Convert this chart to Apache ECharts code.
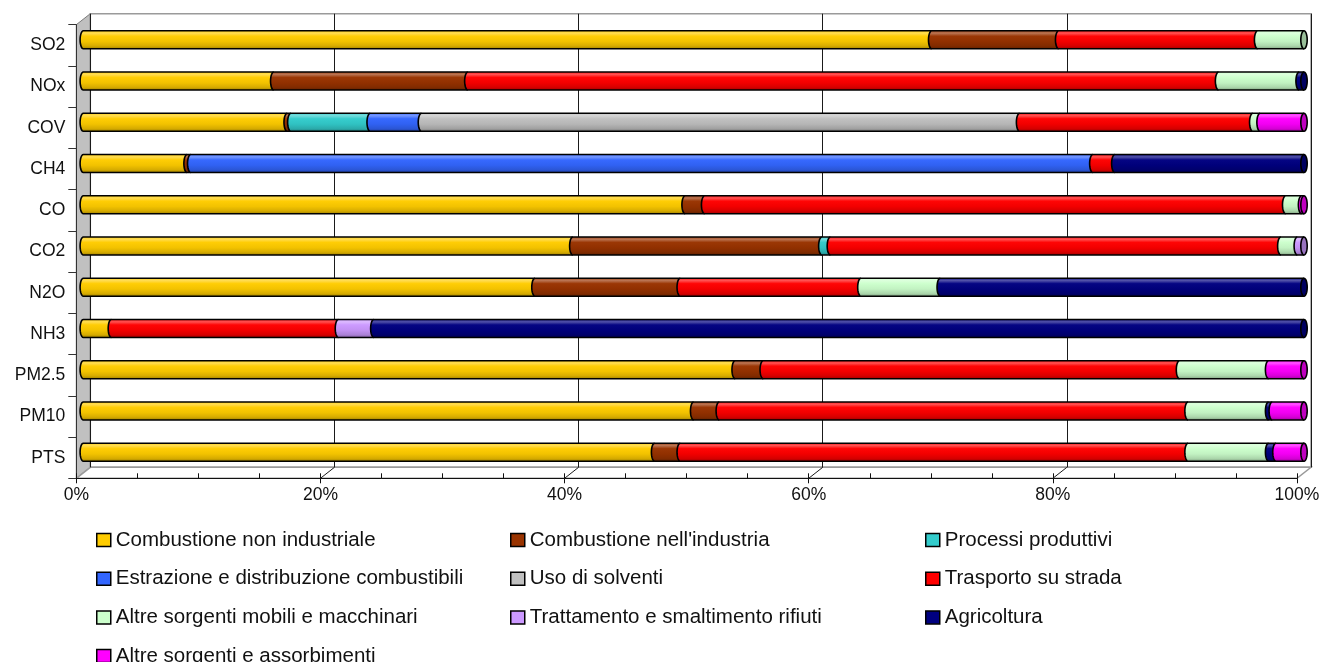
<!DOCTYPE html>
<html>
<head>
<meta charset="utf-8">
<title>Emissioni per macrosettore</title>
<script src="https://cdn.jsdelivr.net/npm/echarts@6/dist/echarts.min.js"></script>
<style>
  html, body { margin: 0; padding: 0; background: #ffffff; }
  #chart { width: 1324px; height: 662px; }
</style>
</head>
<body>
<div id="chart"></div>
<script>
// ---- Data: share of each source (%) per pollutant, top row first ----
const pollutants = ['SO2', 'NOx', 'COV', 'CH4', 'CO', 'CO2', 'N2O', 'NH3', 'PM2.5', 'PM10', 'PTS'];
const percentTicks = [0, 20, 40, 60, 80, 100];

const combustioneNonIndustriale = [69.5, 15.6, 16.7, 8.5, 49.3, 40.1, 37.0, 2.3, 53.4, 50.0, 46.8];
const combustioneIndustria      = [10.4, 15.9, 0.3, 0.3, 1.6, 20.4, 11.9, 0, 2.3, 2.1, 2.1];
const processiProduttivi        = [0, 0, 6.5, 0, 0, 0.7, 0, 0, 0, 0, 0];
const estrazioneCombustibili    = [0, 0, 4.2, 73.9, 0, 0, 0, 0, 0, 0, 0];
const usoSolventi               = [0, 0, 49.0, 0, 0, 0, 0, 0, 0, 0, 0];
const trasportoStrada           = [16.3, 61.5, 19.1, 1.8, 47.6, 36.9, 14.8, 18.6, 34.1, 38.4, 41.6];
const altreSorgentiMobili       = [3.8, 6.6, 0.6, 0, 1.3, 1.35, 6.5, 0, 7.3, 6.6, 6.6];
const trattamentoRifiuti        = [0, 0, 0, 0, 0, 0.55, 0, 2.9, 0, 0, 0];
const agricoltura               = [0, 0.4, 0, 15.5, 0, 0, 29.8, 76.2, 0, 0.3, 0.6];
const altreSorgentiAssorbimenti = [0, 0, 3.6, 0, 0.2, 0, 0, 0, 2.9, 2.6, 2.3];

const sourceNames = [
  'Combustione non industriale',
  "Combustione nell'industria",
  'Processi produttivi',
  'Estrazione e distribuzione combustibili',
  'Uso di solventi',
  'Trasporto su strada',
  'Altre sorgenti mobili e macchinari',
  'Trattamento e smaltimento rifiuti',
  'Agricoltura',
  'Altre sorgenti e assorbimenti'
];
const sourceValues = [
  combustioneNonIndustriale, combustioneIndustria, processiProduttivi,
  estrazioneCombustibili, usoSolventi, trasportoStrada, altreSorgentiMobili,
  trattamentoRifiuti, agricoltura, altreSorgentiAssorbimenti
];

// ---- Styles ----
const palette = ['#FFCC00', '#993300', '#33CCCC', '#3366FF', '#C0C0C0',
                 '#FF0000', '#CCFFCC', '#CC99FF', '#000080', '#FF00FF'];
const FONT = "'Liberation Sans', Arial, sans-serif";

// ---- Layout (pseudo-3D box: front plane, back plane shifted by depth) ----
const FRONT = { left: 76.3, top: 24.7, width: 1220.7, height: 453.6 };
const DEPTH = { dx: 14, dy: -11 };
const BACK = { left: FRONT.left + DEPTH.dx, top: FRONT.top + DEPTH.dy, width: FRONT.width, height: FRONT.height };
const MID  = { left: FRONT.left + DEPTH.dx / 2, top: FRONT.top + DEPTH.dy / 2, width: FRONT.width, height: FRONT.height };
const BAR_HEIGHT = 18;
const CAP_RX = 3.2;
const OUTLINE = 1.6;
const LEGEND_COLS = [96, 510, 925];
const LEGEND_TOP = 529.5;

// colour helpers for the cylinder shading
function hexToRgb(h) {
  const n = parseInt(h.slice(1), 16);
  return [(n >> 16) & 255, (n >> 8) & 255, n & 255];
}
function shade(hex, f) {
  const c = hexToRgb(hex).map(v => f >= 0 ? v + (255 - v) * f : v * (1 + f));
  return 'rgb(' + c.map(v => Math.round(Math.max(0, Math.min(255, v)))).join(',') + ')';
}
function cylinderFill(hex) {
  return new echarts.graphic.LinearGradient(0, 0, 0, 1, [
    { offset: 0,    color: shade(hex, 0.12) },
    { offset: 0.13, color: shade(hex, 0.32) },
    { offset: 0.3,  color: shade(hex, 0.02) },
    { offset: 0.6,  color: shade(hex, -0.05) },
    { offset: 0.85, color: shade(hex, -0.16) },
    { offset: 1,    color: shade(hex, -0.36) }
  ]);
}
const fills = palette.map(cylinderFill);

// 100% stacked shares: [start, end, rowIndex, isLastSegmentOfRow]
const rowTotals = pollutants.map((_, i) => sourceValues.reduce((s, arr) => s + arr[i], 0));
const lastSource = pollutants.map((_, i) => {
  let last = -1;
  sourceValues.forEach((arr, k) => { if (arr[i] > 0) last = k; });
  return last;
});
const segmentData = sourceValues.map((arr, k) => pollutants.map((_, i) => {
  let before = 0;
  for (let j = 0; j < k; j++) before += sourceValues[j][i];
  const start = before / rowTotals[i] * 100;
  const end = (before + arr[i]) / rowTotals[i] * 100;
  return [start, end, i, lastSource[i] === k ? 1 : 0];
}));

// half ellipse at x, bulging to the left, from bottom to top
function leftArc(x, cy, rx, ry, steps) {
  const pts = [];
  for (let s = 0; s <= steps; s++) {
    const t = Math.PI * s / steps;
    pts.push([x - rx * Math.sin(t), cy + ry * Math.cos(t)]);
  }
  return pts;
}

function renderSegment(params, api) {
  const start = api.value(0), end = api.value(1);
  if (!(end - start > 0)) return null;
  const row = api.value(2);
  const isLast = api.value(3) === 1;
  const a = api.coord([start, row]);
  const b = api.coord([end, row]);
  const ry = BAR_HEIGHT / 2;
  const cy = a[1], top = cy - ry, bot = cy + ry;
  const x0 = a[0], x1 = b[0];
  const k = params.seriesIndex;
  const arc = leftArc(x0, cy, CAP_RX, ry, 16);
  const body = [[x0, top], [x1, top], [x1, bot]].concat(arc);
  const outline = [[x1, top]].concat(arc.slice().reverse(), [[x1, bot]]);
  const children = [
    { type: 'polygon', shape: { points: body }, style: { fill: fills[k], stroke: null } },
    { type: 'polyline', shape: { points: outline }, style: { fill: null, stroke: '#000', lineWidth: OUTLINE } }
  ];
  if (isLast) {
    const cap = [];
    for (let s = 0; s < 32; s++) {
      const t = 2 * Math.PI * s / 32;
      cap.push([x1 + CAP_RX * Math.sin(t), cy + ry * Math.cos(t)]);
    }
    children.push({ type: 'polygon', shape: { points: cap },
      style: { fill: shade(palette[k], -0.25), stroke: '#000', lineWidth: OUTLINE } });
  }
  return { type: 'group', children: children };
}

const chart = echarts.init(document.getElementById('chart'), null, { renderer: 'canvas' });

const gridBase = { outerBoundsMode: 'none', containLabel: false };
const option = {
  backgroundColor: '#ffffff',
  animation: false,
  grid: [
    Object.assign({}, gridBase, FRONT),
    Object.assign({}, gridBase, BACK, { show: true, borderColor: '#9a9a9a', borderWidth: 1.5, backgroundColor: 'rgba(0,0,0,0)' }),
    Object.assign({}, gridBase, MID),
    Object.assign({}, gridBase, FRONT)
  ],
  xAxis: [
    { // front axis with labels
      gridIndex: 0, type: 'value', min: 0, max: 100, interval: 20,
      axisLine: { show: true, lineStyle: { color: '#111', width: 1 } },
      axisTick: { show: true, length: 5, lineStyle: { color: '#111' } },
      axisLabel: { formatter: '{value}%', fontFamily: FONT, fontSize: 17.5, color: '#111', margin: 8,
                   showMinLabel: true, showMaxLabel: true },
      splitLine: { show: false }
    },
    { // back wall gridlines
      gridIndex: 1, type: 'value', min: 0, max: 100, interval: 20,
      axisLine: { show: false }, axisTick: { show: false }, axisLabel: { show: false },
      splitLine: { show: true, lineStyle: { color: '#1a1a1a', width: 1 } }
    },
    { // bar scale (mid depth)
      gridIndex: 2, type: 'value', min: 0, max: 100, show: false, splitLine: { show: false }
    },
    { // minor ticks on the front axis
      gridIndex: 3, type: 'value', min: 0, max: 100, interval: 5,
      axisLine: { show: false },
      axisTick: { show: true, inside: true, length: 5, lineStyle: { color: '#111' } },
      axisLabel: { show: false }, splitLine: { show: false }
    }
  ],
  yAxis: [
    {
      gridIndex: 0, type: 'category', data: pollutants, inverse: true,
      axisLine: { show: true, lineStyle: { color: '#333', width: 1 } },
      axisTick: { show: true, length: 8, lineStyle: { color: '#333' } },
      axisLabel: { fontFamily: FONT, fontSize: 17.5, color: '#111', margin: 11 },
      splitLine: { show: false }
    },
    { gridIndex: 1, type: 'category', data: pollutants, inverse: true, show: false },
    { gridIndex: 2, type: 'category', data: pollutants, inverse: true, show: false },
    { gridIndex: 3, type: 'category', data: pollutants, inverse: true, show: false }
  ],
  legend: LEGEND_COLS.map((left, col) => ({
    orient: 'vertical',
    left: left,
    top: LEGEND_TOP,
    height: 160,
    padding: 0,
    itemGap: 17.7,
    itemWidth: 14,
    itemHeight: 13,
    icon: 'rect',
    selectedMode: false,
    itemStyle: { borderColor: '#000', borderWidth: 1.5 },
    textStyle: { fontFamily: FONT, fontSize: 20.5, color: '#111', lineHeight: 20 },
    data: sourceNames.filter((_, i) => i % 3 === col)
  })),
  series: sourceNames.map((name, k) => ({
    name: name,
    type: 'custom',
    xAxisIndex: 2,
    yAxisIndex: 2,
    itemStyle: { color: palette[k] },
    encode: { x: [0, 1], y: 2 },
    renderItem: renderSegment,
    data: segmentData[k]
  }))
};

chart.setOption(option);

// side wall, floor and floor gridlines, placed from the axes' own scales
function px(axisIndex, v) { return chart.convertToPixel({ xAxisIndex: axisIndex }, v); }
const fy1 = FRONT.top + FRONT.height;
const by0 = BACK.top, by1 = BACK.top + BACK.height;
const fx0 = px(0, 0), fx1 = px(0, 100);
const bx0 = px(1, 0), bx1 = px(1, 100);
const decorations = [
  { type: 'polygon', z: -10,
    shape: { points: [[fx0, FRONT.top], [bx0, by0], [bx0, by1], [fx0, fy1]] },
    style: { fill: '#C0C0C0', stroke: '#7a7a7a', lineWidth: 1 } },
  { type: 'polygon', z: -10,
    shape: { points: [[fx0, fy1], [bx0, by1], [bx1, by1], [fx1, fy1]] },
    style: { fill: '#ffffff', stroke: '#9a9a9a', lineWidth: 1.5 } }
];
percentTicks.slice(1, -1).forEach(v => {
  decorations.push({ type: 'line', z: 1,
    shape: { x1: px(0, v), y1: fy1, x2: px(1, v), y2: by1 },
    style: { stroke: '#1a1a1a', lineWidth: 1 } });
});
chart.setOption({ graphic: { elements: decorations } });
</script>
</body>
